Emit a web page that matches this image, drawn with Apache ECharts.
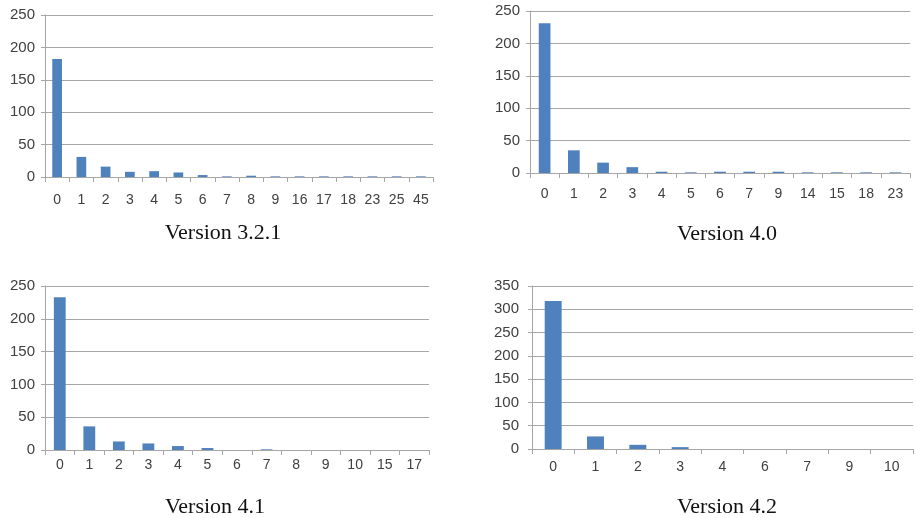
<!DOCTYPE html>
<html><head><meta charset="utf-8">
<script src="https://cdn.jsdelivr.net/npm/echarts@6/dist/echarts.min.js"></script>
<style>html,body{margin:0;padding:0;background:#fff}#c{width:916px;height:518px}</style>
</head><body><div id="c"></div>
<script>
const cats1 = ['0','1','2','3','4','5','6','7','8','9','16','17','18','23','25','45'];
const vals1 = [182,31,16,8,9,7,3,1,2,1,1,1,1,1,1,1];
const cats2 = ['0','1','2','3','4','5','6','7','9','14','15','18','23'];
const vals2 = [231,35,16,9,2,1,2,2,2,1,1,1,1];
const cats3 = ['0','1','2','3','4','5','6','7','8','9','10','15','17'];
const vals3 = [233,36,13,10,6,3,0,1,0,0,0,0,0];
const cats4 = ['0','1','2','3','4','6','7','9','10'];
const vals4 = [318,27,9,4,0,0,0,0,0];
const titles = ['Version 3.2.1','Version 4.0','Version 4.1','Version 4.2'];
const yMax = [250,250,250,350];

const grids = [
  {left:45, top:15, width:388, height:162},
  {left:530, top:11, width:380, height:162},
  {left:45, top:286, width:384, height:164},
  {left:532, top:286, width:381, height:163}
];
const titlePos = [[223,233],[727,234],[215,507],[727,507]];
const xMargins = [16,14,8,11];
const yMargins = [10,10,10,13];
const cats = [cats1,cats2,cats3,cats4];
const vals = [vals1,vals2,vals3,vals4];
const gray = '#a6a6a6';
const txt = '#404040';
const font = 'Liberation Sans';

const option = {
  animation:false,
  grid: grids,
  graphic: titles.map((t,i)=>({type:'text',x:titlePos[i][0],y:titlePos[i][1],
    style:{text:t,fontFamily:'Liberation Serif',fontSize:22,fill:'#111',align:'center',verticalAlign:'middle'}})),
  xAxis: cats.map((c,i)=>({type:'category',gridIndex:i,data:c,
    axisLine:{lineStyle:{color:gray,width:1}},
    axisTick:{show:true,length:5,alignWithLabel:false,lineStyle:{color:gray}},
    axisLabel:{color:txt,fontFamily:font,fontSize:14,margin:xMargins[i],interval:0}})),
  yAxis: yMax.map((m,i)=>({type:'value',gridIndex:i,min:0,max:m,interval:50,
    axisLine:{show:true,lineStyle:{color:gray}},
    axisTick:{show:true,length:4,lineStyle:{color:gray}},
    splitLine:{lineStyle:{color:gray,width:1}},
    axisLabel:{color:txt,fontFamily:font,fontSize:15,margin:yMargins[i]}})),
  series: vals.map((v,i)=>({type:'bar',xAxisIndex:i,yAxisIndex:i,data:v,barWidth:'40%',
    itemStyle:{color:'#4f81bd'}}))
};
echarts.init(document.getElementById('c'),null,{renderer:'canvas'}).setOption(option);
</script></body></html>
